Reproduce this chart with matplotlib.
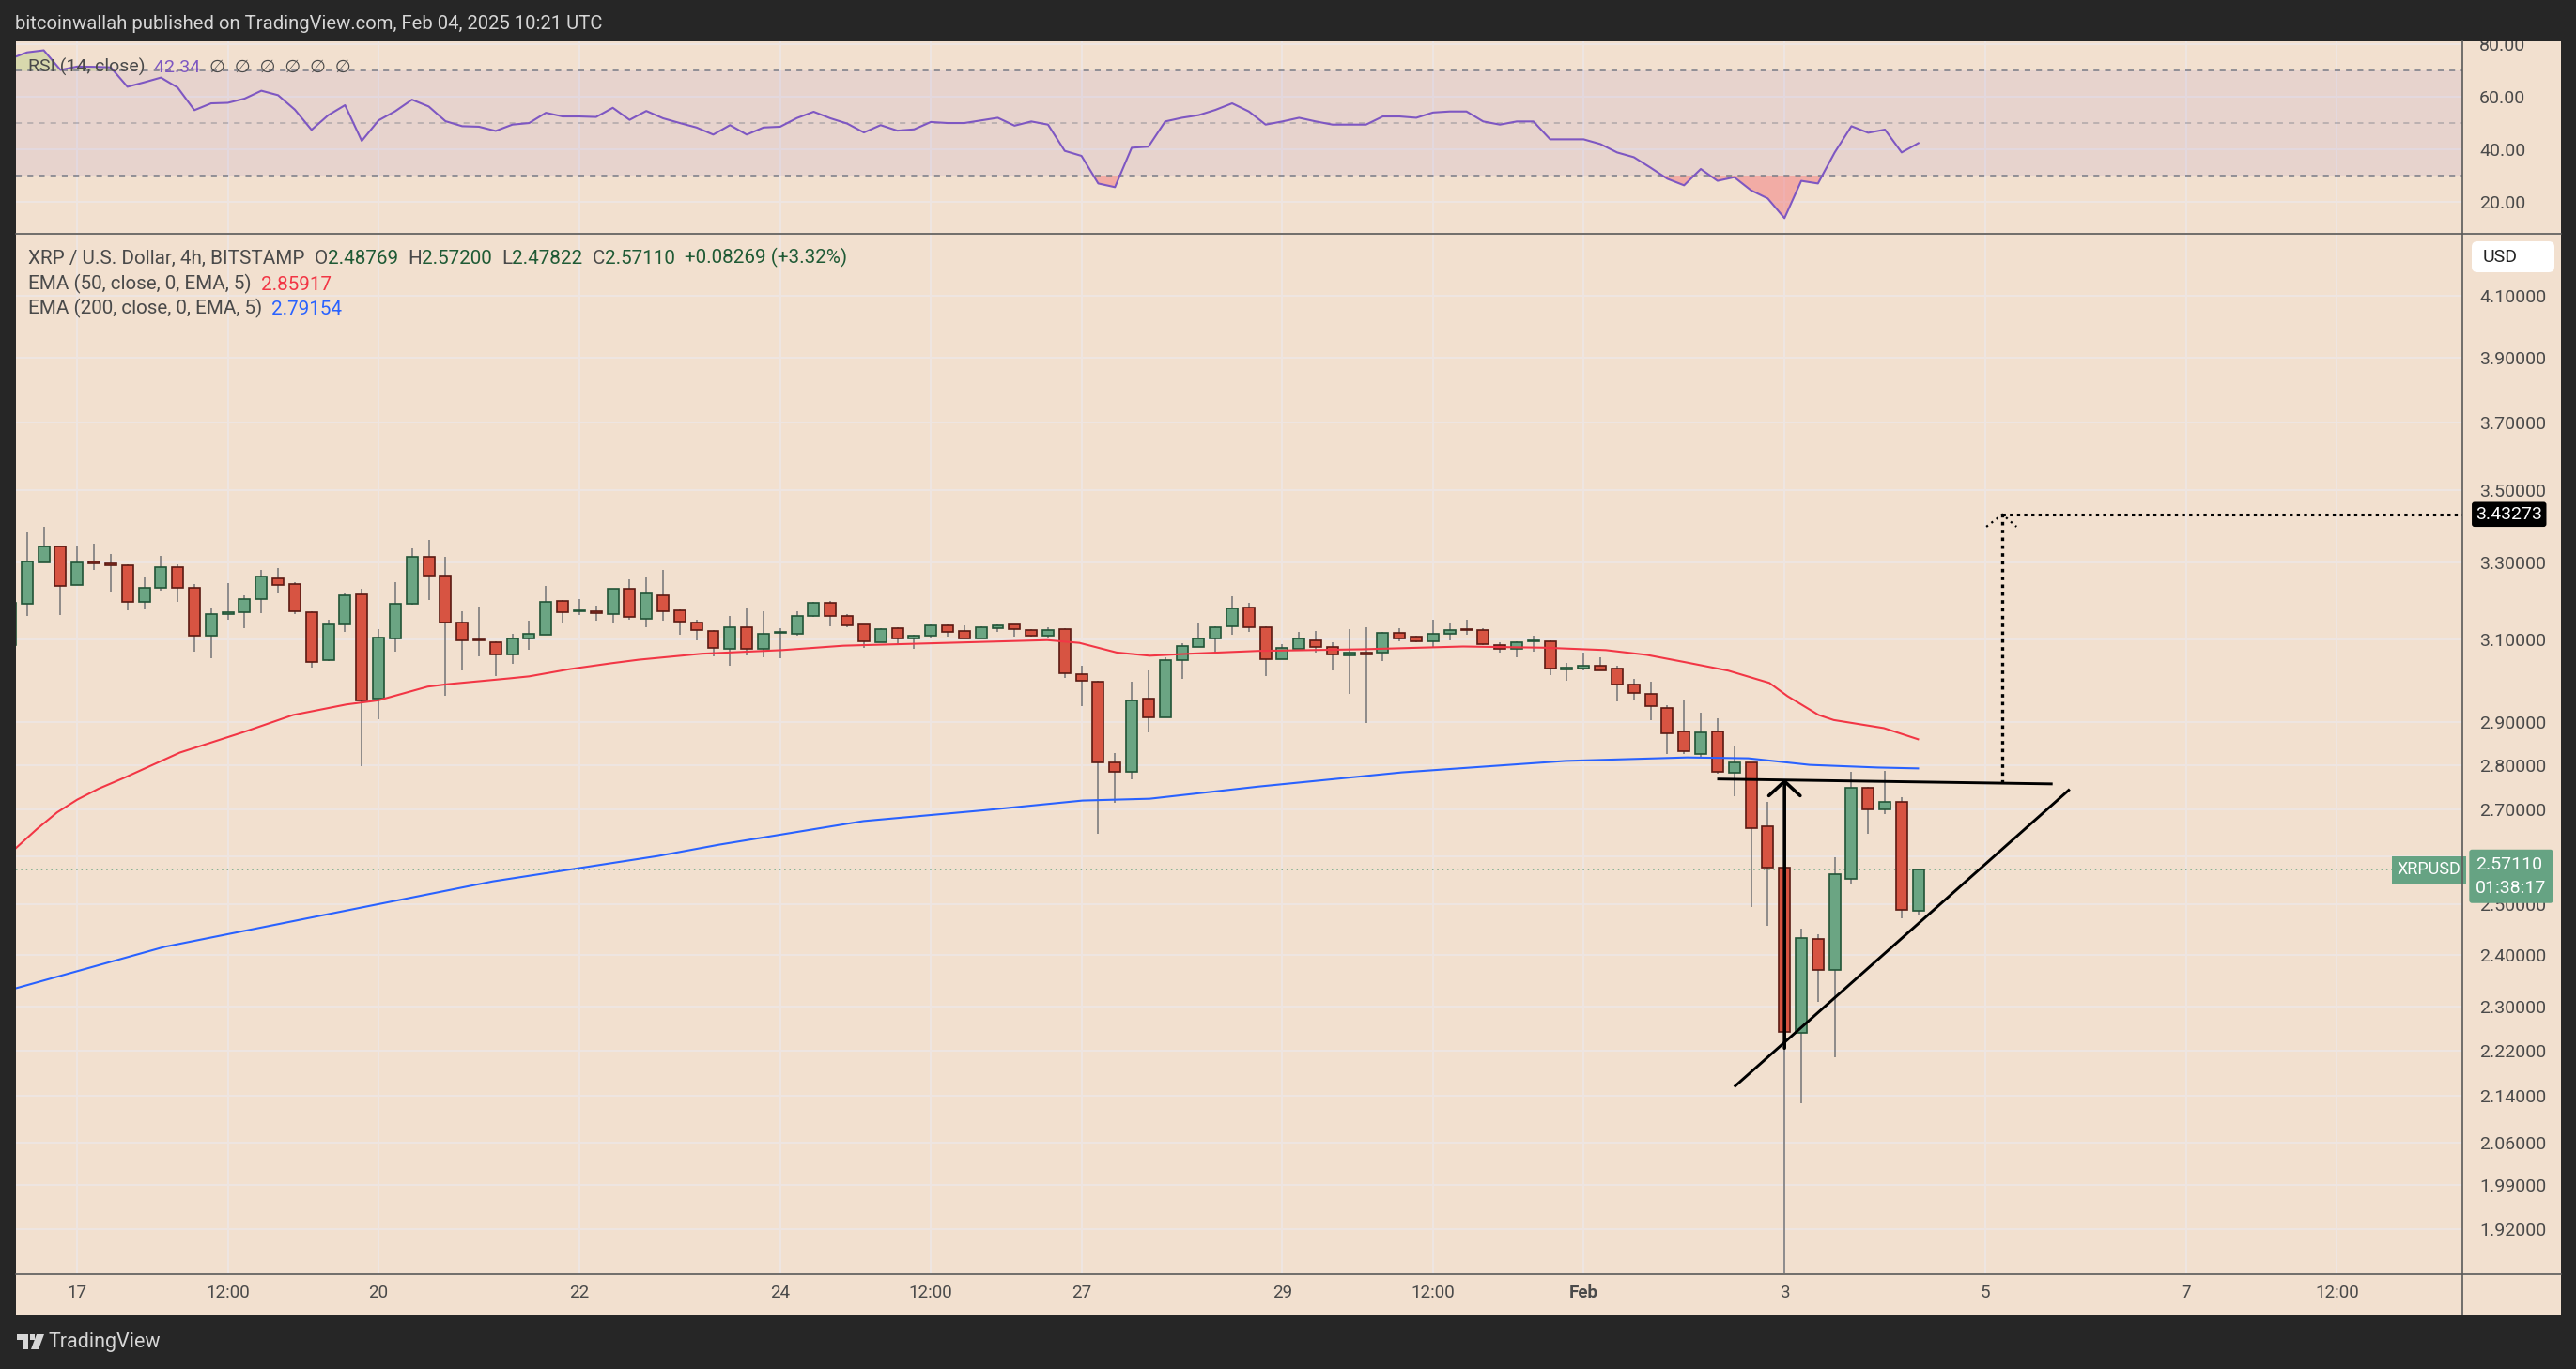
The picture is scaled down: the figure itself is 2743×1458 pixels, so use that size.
import numpy as np
import pandas as pd
import matplotlib
matplotlib.use("Agg")
import matplotlib.pyplot as plt
from matplotlib.patches import Rectangle, Polygon, FancyBboxPatch
from matplotlib.ticker import NullLocator

plt.rcParams["font.family"] = ["Roboto", "DejaVu Sans"]

W, H = 2743, 1458

# XRP / USD, 4h bars from Bitstamp, first bar opens Jan 16 08:00 UTC
first_bar = pd.Timestamp("2025-01-16 08:00")
opens = [3.087, 3.193, 3.302, 3.345, 3.242, 3.304, 3.299, 3.294, 3.198, 3.234,
         3.289, 3.234, 3.111, 3.166, 3.171, 3.205, 3.259, 3.244, 3.171, 3.048,
         3.139, 3.217, 2.954, 3.102, 3.193, 3.317, 3.267, 3.144, 3.099, 3.094,
         3.062, 3.104, 3.113, 3.200, 3.172, 3.173, 3.166, 3.232, 3.154, 3.215,
         3.176, 3.144, 3.123, 3.077, 3.132, 3.078, 3.117, 3.115, 3.160, 3.195,
         3.160, 3.139, 3.094, 3.130, 3.102, 3.111, 3.137, 3.123, 3.104, 3.130,
         3.139, 3.125, 3.111, 3.128, 3.015, 2.997, 2.806, 2.784, 2.954, 2.911,
         3.048, 3.083, 3.104, 3.135, 3.183, 3.132, 3.052, 3.078, 3.099, 3.083,
         3.060, 3.068, 3.068, 3.118, 3.109, 3.097, 3.115, 3.125, 3.125, 3.087,
         3.076, 3.096, 3.097, 3.027, 3.029, 3.036, 3.029, 2.988, 2.967, 2.933,
         2.878, 2.826, 2.878, 2.782, 2.805, 2.664, 2.576, 2.251, 2.430, 2.370,
         2.552, 2.748, 2.701, 2.718, 2.48769]
highs = [3.210, 3.383, 3.397, 3.346, 3.346, 3.351, 3.325, 3.295, 3.260, 3.318,
         3.295, 3.243, 3.181, 3.245, 3.213, 3.282, 3.285, 3.248, 3.173, 3.152,
         3.220, 3.230, 3.126, 3.248, 3.338, 3.361, 3.315, 3.172, 3.184, 3.095,
         3.116, 3.148, 3.238, 3.201, 3.203, 3.186, 3.231, 3.255, 3.260, 3.280,
         3.177, 3.150, 3.125, 3.161, 3.181, 3.172, 3.129, 3.172, 3.198, 3.200,
         3.166, 3.140, 3.130, 3.131, 3.113, 3.139, 3.138, 3.137, 3.135, 3.139,
         3.140, 3.126, 3.132, 3.129, 3.034, 2.998, 2.827, 2.995, 3.023, 3.055,
         3.092, 3.144, 3.135, 3.211, 3.195, 3.135, 3.090, 3.120, 3.123, 3.094,
         3.126, 3.132, 3.119, 3.130, 3.111, 3.152, 3.142, 3.150, 3.130, 3.094,
         3.097, 3.111, 3.099, 3.043, 3.068, 3.055, 3.034, 3.004, 2.997, 2.940,
         2.951, 2.922, 2.909, 2.845, 2.806, 2.718, 2.577, 2.451, 2.440, 2.598,
         2.784, 2.750, 2.787, 2.727, 2.57200]
lows = [3.070, 3.160, 3.300, 3.163, 3.240, 3.281, 3.224, 3.175, 3.177, 3.226,
        3.197, 3.070, 3.053, 3.151, 3.129, 3.167, 3.219, 3.165, 3.030, 3.046,
        3.119, 2.797, 2.906, 3.070, 3.189, 3.201, 2.962, 3.023, 3.058, 3.010,
        3.040, 3.075, 3.112, 3.141, 3.163, 3.148, 3.141, 3.151, 3.131, 3.148,
        3.112, 3.098, 3.058, 3.035, 3.061, 3.056, 3.054, 3.111, 3.159, 3.135,
        3.132, 3.080, 3.093, 3.090, 3.076, 3.102, 3.109, 3.104, 3.103, 3.120,
        3.109, 3.109, 3.103, 3.005, 2.937, 2.648, 2.716, 2.767, 2.874, 2.910,
        3.003, 3.082, 3.066, 3.113, 3.120, 3.010, 3.051, 3.076, 3.068, 3.023,
        2.966, 2.896, 3.047, 3.097, 3.094, 3.083, 3.099, 3.113, 3.087, 3.068,
        3.056, 3.070, 3.012, 2.998, 3.024, 3.023, 2.948, 2.950, 2.903, 2.825,
        2.825, 2.818, 2.780, 2.729, 2.495, 2.456, 1.770, 2.126, 2.309, 2.208,
        2.540, 2.647, 2.690, 2.472, 2.47822]
closes = [3.195, 3.304, 3.345, 3.239, 3.302, 3.299, 3.294, 3.198, 3.234, 3.289,
          3.234, 3.111, 3.166, 3.171, 3.205, 3.264, 3.242, 3.173, 3.045, 3.139,
          3.215, 2.951, 3.106, 3.193, 3.317, 3.267, 3.144, 3.099, 3.098, 3.064,
          3.104, 3.115, 3.198, 3.171, 3.174, 3.168, 3.230, 3.158, 3.220, 3.173,
          3.147, 3.125, 3.080, 3.132, 3.078, 3.115, 3.118, 3.160, 3.195, 3.160,
          3.137, 3.097, 3.128, 3.104, 3.111, 3.137, 3.120, 3.104, 3.132, 3.137,
          3.128, 3.111, 3.125, 3.017, 2.999, 2.806, 2.784, 2.951, 2.911, 3.050,
          3.085, 3.102, 3.132, 3.180, 3.132, 3.052, 3.080, 3.102, 3.083, 3.062,
          3.068, 3.064, 3.118, 3.104, 3.097, 3.115, 3.125, 3.124, 3.090, 3.076,
          3.094, 3.097, 3.029, 3.031, 3.036, 3.024, 2.990, 2.969, 2.936, 2.873,
          2.831, 2.876, 2.784, 2.806, 2.660, 2.576, 2.253, 2.432, 2.370, 2.561,
          2.748, 2.701, 2.718, 2.488, 2.57110]
rsi = [74.5, 76.9, 77.7, 70.2, 71.5, 71.4, 71.2, 63.8, 65.5, 67.3,
       63.5, 54.9, 57.5, 57.7, 59.3, 62.3, 60.6, 55.1, 47.4, 53.0,
       56.8, 43.2, 51.0, 54.5, 58.9, 56.3, 50.7, 48.8, 48.6, 47.0,
       49.4, 50.0, 53.9, 52.5, 52.5, 52.3, 55.8, 51.2, 54.6, 51.8,
       50.0, 48.3, 45.6, 49.2, 45.6, 48.3, 48.6, 51.9, 54.3, 51.8,
       49.8, 46.4, 49.2, 47.1, 47.6, 50.4, 50.0, 50.0, 51.0, 52.0,
       49.0, 50.6, 49.4, 39.4, 37.5, 27.0, 25.6, 40.6, 41.0, 50.6,
       52.0, 53.0, 55.0, 57.5, 54.4, 49.4, 50.6, 52.0, 50.6, 49.4,
       49.4, 49.4, 52.5, 52.5, 52.0, 54.0, 54.4, 54.4, 50.6, 49.4,
       50.6, 50.6, 43.8, 43.8, 43.8, 42.0, 38.8, 37.0, 33.0, 28.8,
       26.3, 32.5, 28.0, 29.4, 24.4, 21.3, 13.8, 28.0, 27.0, 38.8,
       48.8, 46.3, 47.5, 38.8, 42.34]

# moving averages (x in days since Jan 17 00:00)
ema50_t = [-0.61, -0.4, -0.2, 0.0, 0.21, 0.47, 1.02, 1.66, 2.15, 2.68, 3.0, 3.49,
           3.69, 4.3, 4.5, 4.91, 5.31, 5.59, 6.22, 7.02, 7.63, 8.65, 9.66, 9.98,
           10.35, 10.68, 11.08, 11.76, 12.79, 13.8, 14.61, 15.22, 15.63, 16.03,
           16.44, 16.85, 17.03, 17.34, 17.49, 17.99, 18.33]
ema50 = [2.617, 2.658, 2.694, 2.722, 2.746, 2.771, 2.828, 2.876, 2.916, 2.941,
         2.951, 2.984, 2.990, 3.004, 3.009, 3.027, 3.041, 3.050, 3.065, 3.074,
         3.085, 3.092, 3.099, 3.092, 3.068, 3.060, 3.065, 3.072, 3.076, 3.083,
         3.080, 3.074, 3.062, 3.043, 3.023, 2.993, 2.961, 2.916, 2.904, 2.885,
         2.859]
ema200_t = [-0.61, 0.87, 2.5, 4.14, 5.78, 6.39, 7.83, 9.05, 10.01, 10.68, 11.76,
            13.19, 14.82, 16.03, 16.64, 17.25, 17.93, 18.33]
ema200 = [2.335, 2.415, 2.480, 2.547, 2.600, 2.624, 2.675, 2.699, 2.720, 2.724,
          2.751, 2.783, 2.809, 2.817, 2.815, 2.800, 2.794, 2.792]

# drawings on the chart
resistance_t = [16.33, 19.67]
resistance = [2.768, 2.757]
support_t = [16.50, 19.84]
support = [2.155, 2.745]
move_t = 17.0
move_from, move_to = 2.224, 2.768
target_t = 19.17
target = 3.43273
last_price = 2.57110

price_ticks = [4.1, 3.9, 3.7, 3.5, 3.3, 3.1, 2.9, 2.8, 2.7, 2.6, 2.5, 2.4, 2.3,
               2.22, 2.14, 2.06, 1.99, 1.92]
time_ticks = [0, 1.5, 3, 5, 7, 8.5, 10, 12, 13.5, 15, 17, 19, 21, 22.5]
time_labels = ["17", "12:00", "20", "22", "24", "12:00", "27", "29", "12:00",
               "Feb", "3", "5", "7", "12:00"]
rsi_ticks = [20, 40, 60, 80]

PEACH = "#F2E0CF"
DARK = "#262626"
GRID = "#EEE6E2"
UP, UP_EDGE = "#6BA583", "#225437"
DN, DN_EDGE = "#D75442", "#5B1A13"
WICK = "#737375"
TXT = "#4A4A4A"
NUM = "#1F5A35"

fig = plt.figure(figsize=(W / 100, H / 100), dpi=100)
fig.patch.set_facecolor(DARK)


def box(x0, y0, x1, y1):
    return [x0 / W, 1 - y1 / H, (x1 - x0) / W, (y1 - y0) / H]


bg = fig.add_axes([0, 0, 1, 1], zorder=-5)
bg.set_xlim(0, W)
bg.set_ylim(H, 0)
bg.axis("off")
bg.add_patch(Rectangle((17, 44), 2710, 1356, fc=PEACH, ec="none"))

ax_rsi = fig.add_axes(box(17, 44, 2622, 248))
ax = fig.add_axes(box(17, 250, 2622, 1356))
for a in (ax, ax_rsi):
    a.set_facecolor("none")
    for s in a.spines.values():
        s.set_visible(False)
    a.set_xlim(-0.61, 23.75)
    a.set_xticks(time_ticks)
    a.grid(True, color=GRID, lw=1.4)
    a.set_axisbelow(True)
    a.yaxis.tick_right()
    a.tick_params(length=0, labelsize=14, labelcolor=TXT)
    a.tick_params(axis="y", pad=13)

# ---- candles
x = (first_bar - pd.Timestamp("2025-01-17")) / pd.Timedelta(days=1) + np.arange(len(closes)) / 6
o, h, l, c = map(np.array, (opens, highs, lows, closes))
up = c >= o
ax.vlines(x, l, h, color=WICK, lw=1.1, zorder=2)
ax.bar(x, np.maximum(np.abs(c - o), 0.003), bottom=np.minimum(o, c), width=0.112,
       color=np.where(up, UP, DN), edgecolor=np.where(up, UP_EDGE, DN_EDGE),
       linewidth=1.2, zorder=3)

ax.plot(ema50_t, ema50, color="#F23645", lw=1.5, zorder=4)
ax.plot(ema200_t, ema200, color="#2962FF", lw=1.5, zorder=4)

ax.set_yscale("log")
ax.set_ylim(1.852, 4.309)
ax.set_yticks(price_ticks)
ax.set_yticklabels([f"{p:.5f}" for p in price_ticks])
ax.yaxis.set_minor_locator(NullLocator())
ax.set_xticklabels(time_labels)
ax.tick_params(axis="x", pad=9, labelsize=13.5)
for lab in ax.get_xticklabels():
    if lab.get_text() == "Feb":
        lab.set_fontweight("bold")

# last price line
ax.axhline(last_price, color="#6BA583", lw=1.1, ls=(0, (1, 2.5)), zorder=1)

# drawings
ax.plot(resistance_t, resistance, color="black", lw=2.1, zorder=6, solid_capstyle="butt")
ax.plot(support_t, support, color="black", lw=2.1, zorder=6, solid_capstyle="butt")
ax.annotate("", xy=(move_t, move_to), xytext=(move_t, move_from),
            arrowprops=dict(arrowstyle="->,head_length=0.55,head_width=0.6",
                            mutation_scale=20, color="black", lw=2.6,
                            shrinkA=0, shrinkB=0), zorder=6)
dots = (0, (1.1, 1.4))
ax.plot([target_t, target_t], [resistance[0] - (resistance[0] - resistance[1]) * 0.85, target],
        color="black", lw=2.4, ls=dots, zorder=6)
ax.plot([target_t, 23.75], [target, target], color="black", lw=2.2, ls=dots, zorder=6)
ax.plot([target_t - 0.16, target_t, target_t + 0.14], [target * 0.99, target, target * 0.99],
        color="black", lw=1.6, ls=(0, (1, 2)), zorder=6)

# ---- RSI panel
ax_rsi.set_ylim(8.2, 81.1)
ax_rsi.set_yticks(rsi_ticks)
ax_rsi.set_yticklabels([f"{v:.2f}" for v in rsi_ticks])
ax_rsi.tick_params(axis="x", labelbottom=False)
ax_rsi.axhspan(30, 70, color="#7E57C2", alpha=0.09, lw=0)
for lvl, al in ((70, 1), (50, 0.5), (30, 1)):
    ax_rsi.axhline(lvl, color="#787B86", lw=1.1, ls=(0, (4, 4)), alpha=al)
r = np.array(rsi)
ax_rsi.fill_between(x, 70, r, where=r >= 70, interpolate=True, color="#8BC34A", alpha=0.25, lw=0)
ax_rsi.fill_between(x, 30, r, where=r <= 30, interpolate=True, color="#F23645", alpha=0.3, lw=0)
ax_rsi.plot(x, r, color="#7E57C2", lw=1.5, zorder=4)

# ---- price axis labels
blend = ax.get_yaxis_transform()
ax.text(1.0055, target, f"{target:.5f}", transform=blend, color="white", fontsize=14,
        va="center", ha="left", zorder=10, clip_on=False,
        bbox=dict(boxstyle="round,pad=0.22,rounding_size=0.15", fc="black", ec="none"))
ax.annotate(f"{last_price:.5f}\n01:38:17", xy=(1.0055, last_price), xycoords=blend,
            xytext=(0, -5), textcoords="offset points", color="white",
            fontsize=14, va="center", ha="left", zorder=10, annotation_clip=False,
            linespacing=1.5,
            bbox=dict(boxstyle="round,pad=0.36,rounding_size=0.15", fc="#66A383", ec="none"))
ax.text(0.9995, last_price, "XRPUSD", transform=blend, color="white", fontsize=13,
        va="center", ha="right", zorder=10, clip_on=False,
        bbox=dict(boxstyle="square,pad=0.3", fc="#66A383", ec="none"))

# ---- overlay: frame, titles, legends
ov = fig.add_axes([0, 0, 1, 1], zorder=10)
ov.set_xlim(0, W)
ov.set_ylim(H, 0)
ov.axis("off")
ov.patch.set_alpha(0)
ov.add_patch(Rectangle((0, 0), W, 43.5, fc=DARK, ec="none"))
for xs, ys in (([2622, 2622], [44, 1400]), ([17, 2727], [1356.5, 1356.5]),
               ([17, 2727], [248.5, 248.5])):
    ov.plot(xs, ys, color="#5A5A5A", lw=1.2)
ov.add_patch(FancyBboxPatch((2632, 257), 88, 33, boxstyle="round,pad=0,rounding_size=6",
                            fc="white", ec="none"))
ov.text(2644, 274, "USD", fontsize=14, color="#222222", va="center")

ov.text(16, 25, "bitcoinwallah published on TradingView.com, Feb 04, 2025 10:21 UTC",
        fontsize=14.6, color="#D6D6D6", va="center")
ov.text(52, 1429, "TradingView", fontsize=15.5, color="#D6D6D6", va="center")
ov.add_patch(Rectangle((18, 1421), 12, 6, fc="#D6D6D6", ec="none"))
ov.add_patch(Rectangle((24, 1421), 6, 16, fc="#D6D6D6", ec="none"))
ov.add_patch(Rectangle((32, 1421), 5, 6, fc="#D6D6D6", ec="none"))
ov.add_patch(Polygon([(39, 1421), (47, 1421), (41, 1437), (33, 1437)], fc="#D6D6D6", ec="none"))


def chain(x0, y0, parts, size):
    prev = ov.text(x0, y0, parts[0][0], color=parts[0][1], fontsize=size, va="center")
    for s, col in parts[1:]:
        prev = ov.annotate(s, xy=(1, 0), xycoords=prev, va="bottom", ha="left",
                           color=col, fontsize=size)


chain(30, 275, [("XRP / U.S. Dollar, 4h, BITSTAMP  ", TXT), ("O", TXT), ("2.48769  ", NUM),
                ("H", TXT), ("2.57200  ", NUM), ("L", TXT), ("2.47822  ", NUM),
                ("C", TXT), ("2.57110  ", NUM), ("+0.08269 (+3.32%)", NUM)], 14.9)
chain(30, 302, [("EMA (50, close, 0, EMA, 5)  ", TXT), ("2.85917", "#F23645")], 14.9)
chain(30, 328, [("EMA (200, close, 0, EMA, 5)  ", TXT), ("2.79154", "#2962FF")], 14.9)
chain(30, 71, [("RSI (14, close)  ", TXT), ("42.34  ", "#7E57C2"),
               ("\u2205  \u2205  \u2205  \u2205  \u2205  \u2205", TXT)], 14)

fig.savefig("out.png", dpi=100, facecolor=DARK)
